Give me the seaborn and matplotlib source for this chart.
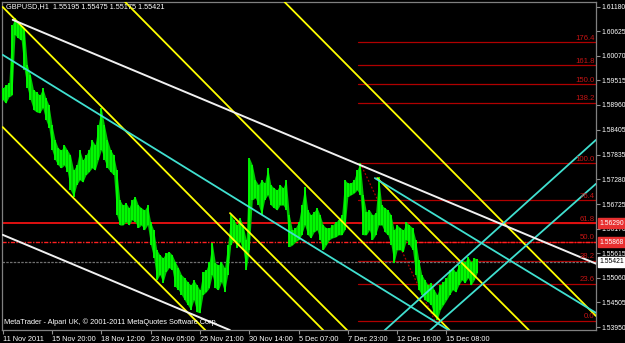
import numpy as np
import pandas as pd
import matplotlib
matplotlib.use("Agg")
import matplotlib.pyplot as plt
import seaborn as sns

# ---------------- data ----------------
symbol_info = "GBPUSD,H1  1.55195 1.55475 1.55175 1.55421"
copyright_text = "MetaTrader - Alpari UK, \u00a9 2001-2011 MetaQuotes Software Corp."

bar_step = 4  # hours between the sampled bars
highs = [1.5934, 1.5941, 1.5945, 1.6076, 1.6092, 1.6083, 1.6076, 1.6070, 1.5986, 1.5964,
         1.5930, 1.5925, 1.5918, 1.5934, 1.5912, 1.5896, 1.5851, 1.5817, 1.5799, 1.5794,
         1.5806, 1.5794, 1.5783, 1.5749, 1.5761, 1.5795, 1.5772, 1.5783, 1.5795, 1.5817,
         1.5806, 1.5851, 1.5889, 1.5851, 1.5817, 1.5795, 1.5783, 1.5749, 1.5682, 1.5670,
         1.5675, 1.5664, 1.5682, 1.5689, 1.5670, 1.5664, 1.5659, 1.5670, 1.5632, 1.5614,
         1.5569, 1.5558, 1.5551, 1.5562, 1.5565, 1.5558, 1.5542, 1.5529, 1.5513, 1.5506,
         1.5497, 1.5490, 1.5501, 1.5490, 1.5479, 1.5519, 1.5524, 1.5542, 1.5585, 1.5540,
         1.5535, 1.5542, 1.5529, 1.5580, 1.5648, 1.5637, 1.5625, 1.5641, 1.5625, 1.5592,
         1.5777, 1.5761, 1.5727, 1.5716, 1.5727, 1.5720, 1.5754, 1.5716, 1.5709, 1.5704,
         1.5716, 1.5709, 1.5727, 1.5648, 1.5614, 1.5619, 1.5632, 1.5670, 1.5711, 1.5659,
         1.5648, 1.5655, 1.5664, 1.5648, 1.5625, 1.5619, 1.5619, 1.5625, 1.5632, 1.5637,
         1.5648, 1.5727, 1.5720, 1.5720, 1.5727, 1.5749, 1.5765, 1.5693, 1.5655, 1.5659,
         1.5648, 1.5652, 1.5734, 1.5670, 1.5664, 1.5659, 1.5648, 1.5614, 1.5625, 1.5619,
         1.5614, 1.5632, 1.5625, 1.5619, 1.5592, 1.5547, 1.5513, 1.5501, 1.5490, 1.5495,
         1.5479, 1.5468, 1.5490, 1.5497, 1.5506, 1.5524, 1.5529, 1.5519, 1.5535, 1.5547,
         1.5542, 1.5553, 1.5542, 1.5551, 1.5548]
lows = [1.5907, 1.5900, 1.5914, 1.5918, 1.6054, 1.6047, 1.6042, 1.5975, 1.5934, 1.5907,
        1.5885, 1.5880, 1.5878, 1.5889, 1.5862, 1.5844, 1.5794, 1.5772, 1.5760, 1.5754,
        1.5760, 1.5745, 1.5704, 1.5689, 1.5716, 1.5727, 1.5722, 1.5738, 1.5745, 1.5754,
        1.5749, 1.5772, 1.5795, 1.5772, 1.5754, 1.5745, 1.5738, 1.5648, 1.5625, 1.5625,
        1.5632, 1.5625, 1.5637, 1.5632, 1.5619, 1.5625, 1.5614, 1.5625, 1.5580, 1.5551,
        1.5501, 1.5513, 1.5495, 1.5519, 1.5529, 1.5524, 1.5486, 1.5479, 1.5468, 1.5456,
        1.5445, 1.5434, 1.5456, 1.5429, 1.5427, 1.5468, 1.5474, 1.5483, 1.5513, 1.5483,
        1.5479, 1.5497, 1.5474, 1.5513, 1.5580, 1.5592, 1.5574, 1.5587, 1.5569, 1.5524,
        1.5569, 1.5682, 1.5686, 1.5670, 1.5648, 1.5682, 1.5693, 1.5670, 1.5664, 1.5659,
        1.5670, 1.5670, 1.5659, 1.5576, 1.5580, 1.5587, 1.5592, 1.5603, 1.5625, 1.5603,
        1.5596, 1.5609, 1.5614, 1.5592, 1.5569, 1.5580, 1.5592, 1.5596, 1.5598, 1.5603,
        1.5603, 1.5614, 1.5689, 1.5693, 1.5697, 1.5704, 1.5693, 1.5603, 1.5603, 1.5614,
        1.5592, 1.5603, 1.5625, 1.5625, 1.5609, 1.5603, 1.5580, 1.5540, 1.5569, 1.5569,
        1.5565, 1.5592, 1.5580, 1.5569, 1.5513, 1.5479, 1.5468, 1.5456, 1.5452, 1.5445,
        1.5422, 1.5411, 1.5434, 1.5445, 1.5456, 1.5468, 1.5479, 1.5474, 1.5490, 1.5501,
        1.5495, 1.5506, 1.5490, 1.5501, 1.5518]

time_tick_bars = [0, 64, 128, 192, 256, 320, 384, 448, 512, 576]
time_tick_labels = ["11 Nov 2011", "15 Nov 20:00", "18 Nov 12:00", "23 Nov 05:00",
                    "25 Nov 21:00", "30 Nov 14:00", "5 Dec 07:00", "7 Dec 23:00",
                    "12 Dec 16:00", "15 Dec 08:00"]
price_ticks = [1.61180, 1.60625, 1.60070, 1.59515, 1.58960, 1.58405, 1.57835,
               1.57280, 1.56725, 1.56170, 1.55615, 1.55060, 1.54505, 1.53950]

# trend / channel lines: (start bar, start price, end bar, end price)
white_lines = [(13, 1.6088, 770, 1.5538), (0, 1.5603, 295, 1.5388)]
yellow_lines = [(0, 1.5846, 263, 1.5388), (0, 1.6117, 416, 1.5388),
                (159, 1.6128, 580, 1.5388), (366, 1.6128, 770, 1.5420),
                (295, 1.5652, 447, 1.5388), (486, 1.5731, 683, 1.5388)]
cyan_lines = [(0, 1.6009, 579, 1.5388), (483, 1.5731, 770, 1.5427),
              (496, 1.5388, 770, 1.5817), (555, 1.5388, 770, 1.5718)]

# Fibonacci retracement
fib_low, fib_high = 1.5409, 1.5765
fib_levels = [0.0, 23.6, 38.2, 50.0, 61.8, 76.4, 100.0, 138.2, 150.0, 161.8, 176.4]
fib_start_bar = 461
fib_diag = (464, 1.5765, 561, 1.5409)

# horizontal lines
solid_hline = 1.56290
dotted_hline = 1.55868
bid_price = 1.55421
solid_label, dotted_label, bid_label = "1.56290", "1.55868", "1.55421"

# ---------------- drawing ----------------
sns.set_style("dark")
plt.rcParams["font.family"] = ["Liberation Sans", "DejaVu Sans"]

W, H = 625, 343
fig = plt.figure(figsize=(W / 100, H / 100), dpi=100, facecolor="black")
ax = fig.add_axes([2 / W, 13 / H, 594 / W, 328 / H], facecolor="black")

xmin, xmax = -0.9, 770.1
ymin, ymax = 1.53883, 1.61282

# fib levels
fib_red = "#c41414"
fib_range = fib_high - fib_low
for lvl in fib_levels:
    p = fib_low + fib_range * lvl / 100.0
    ax.plot([fib_start_bar, xmax], [p, p], color="#b00000", lw=0.9, zorder=2)
    ax.text(xmax - 2, p + 0.00010, f"{lvl:.1f}", color=fib_red, fontsize=5.6,
            ha="right", va="bottom", zorder=6)
ax.plot([fib_diag[0], fib_diag[2]], [fib_diag[1], fib_diag[3]], color="#b00000",
        lw=0.9, ls=(0, (1.5, 1.5)), zorder=2)

# horizontal lines
ax.axhline(solid_hline, color="#e01010", lw=1.4, zorder=2)
ax.axhline(dotted_hline, color="#ff2020", lw=1.0, ls=(0, (3, 1, 1, 1)), zorder=2)
ax.axhline(bid_price, color="#707070", lw=0.9, ls=(0, (2, 1)), zorder=2)

# price bars
bars = pd.DataFrame({"bar": np.arange(len(highs)) * bar_step,
                     "high": highs, "low": lows})
ax.fill_between(bars["bar"], bars["low"], bars["high"], color="#00c800",
                lw=0, zorder=3)
ax.vlines(bars["bar"], bars["low"], bars["high"], color="#00ff00", lw=1.3, zorder=3)
sns.lineplot(x=bars["bar"], y=(bars["high"] + bars["low"]) / 2, ax=ax,
             color="#00e000", lw=0.0, zorder=3)

def draw_lines(lines, color, lw):
    for (b0, p0, b1, p1) in lines:
        seg = pd.DataFrame({"b": [b0, b1], "p": [p0, p1]})
        sns.lineplot(data=seg, x="b", y="p", ax=ax, color=color, lw=lw,
                     zorder=4, sort=False)

draw_lines(yellow_lines, "#ffff00", 1.3)
draw_lines(cyan_lines, "#40e0d0", 1.3)
draw_lines(white_lines, "#f0f0f0", 1.4)

ax.set_xlim(xmin, xmax)
ax.set_ylim(ymin, ymax)
ax.set_xlabel("")
ax.set_ylabel("")
ax.grid(False)

for s in ax.spines.values():
    s.set_color("#808080")
    s.set_linewidth(0.9)
    s.set_visible(True)

ax.yaxis.tick_right()
ax.set_yticks(price_ticks)
ax.set_yticklabels([f"{t:.5f}" for t in price_ticks])
ax.set_xticks(time_tick_bars)
ax.set_xticklabels(time_tick_labels)
for lab in ax.get_xticklabels():
    lab.set_ha("left")
ax.tick_params(axis="both", colors="#909090", labelcolor="white", labelsize=5.3,
               length=3, width=0.8, direction="out", pad=1.5)
ax.tick_params(axis="y", left=False, right=True, labelsize=4.9, pad=1.0)
ax.tick_params(axis="x", bottom=True)

# price boxes on the right axis
def price_box(p, text, fc, tc):
    ax.annotate(text, xy=(1.0, p), xycoords=("axes fraction", "data"),
                xytext=(2.2, 0), textcoords="offset points", ha="left", va="center",
                fontsize=4.9, color=tc, annotation_clip=False, zorder=7,
                bbox=dict(boxstyle="square,pad=0.2", fc=fc, ec=fc))

price_box(solid_hline, solid_label, "#e83030", "white")
price_box(dotted_hline, dotted_label, "#e83030", "white")
price_box(bid_price, bid_label, "white", "black")

ax.text(4 / 594, 1 - 5 / 328, symbol_info, transform=ax.transAxes, color="white",
        fontsize=5.3, ha="left", va="center", zorder=7)
ax.text(2 / 594, 8 / 328, copyright_text, transform=ax.transAxes, color="white",
        fontsize=5.3, ha="left", va="center", zorder=7)

fig.savefig("out.png", dpi=100, facecolor="black")
